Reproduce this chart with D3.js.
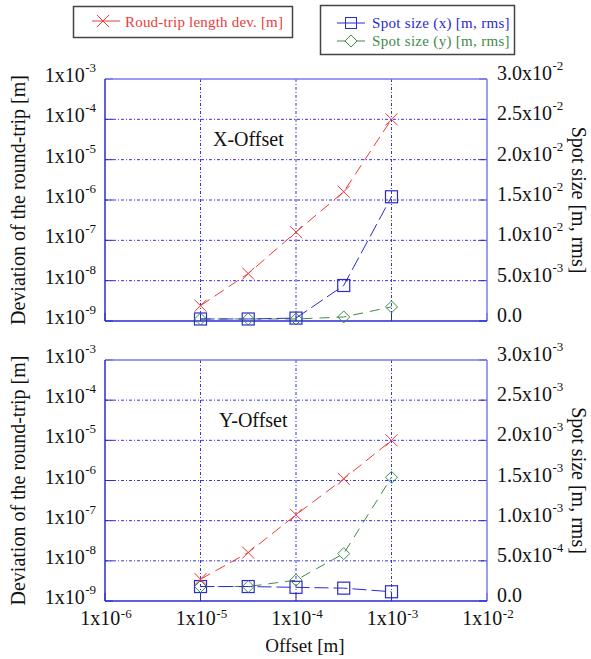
<!DOCTYPE html>
<html><head><meta charset="utf-8">
<script src="https://cdn.jsdelivr.net/npm/d3@7"></script>
<style>body{margin:0;background:#fff}svg{display:block}text{font-family:"Liberation Serif","DejaVu Serif",serif}</style>
</head><body><svg id="c" width="591" height="659"></svg>
<script>
// ---- data ----
const offsets = [1e-5, 3.16e-5, 1e-4, 3.16e-4, 1e-3];
const xOffRoundTrip = [2.4e-9, 1.5e-8, 1.6e-7, 1.6e-6, 1.0e-4];
const xOffSpotX = [2.5e-4, 2.5e-4, 3.6e-4, 4.4e-3, 1.54e-2];
const xOffSpotY = [2.5e-4, 2.5e-4, 2.5e-4, 5.0e-4, 1.75e-3];
const yOffRoundTrip = [3.5e-9, 1.6e-8, 1.4e-7, 1.1e-6, 1.0e-5];
const yOffSpotX = [1.8e-4, 1.8e-4, 1.7e-4, 1.6e-4, 1.15e-4];
const yOffSpotY = [1.8e-4, 1.8e-4, 2.6e-4, 5.9e-4, 1.54e-3];
const xTicks = [1e-6, 1e-5, 1e-4, 1e-3, 1e-2];
const xTickExp = ["-6", "-5", "-4", "-3", "-2"];
const leftTicks = [1e-9, 1e-8, 1e-7, 1e-6, 1e-5, 1e-4, 1e-3];
const leftTickExp = ["-9", "-8", "-7", "-6", "-5", "-4", "-3"];
const rightTicksTop = [0, 5e-3, 1e-2, 1.5e-2, 2e-2, 2.5e-2, 3e-2];
const rightLabelsTop = [["0.0", ""], ["5.0x10", "-3"], ["1.0x10", "-2"], ["1.5x10", "-2"], ["2.0x10", "-2"], ["2.5x10", "-2"], ["3.0x10", "-2"]];
const rightTicksBot = [0, 5e-4, 1e-3, 1.5e-3, 2e-3, 2.5e-3, 3e-3];
const rightLabelsBot = [["0.0", ""], ["5.0x10", "-4"], ["1.0x10", "-3"], ["1.5x10", "-3"], ["2.0x10", "-3"], ["2.5x10", "-3"], ["3.0x10", "-3"]];
const legendLabels = ["Roud-trip length dev. [m]", "Spot size (x) [m, rms]", "Spot size (y) [m, rms]"];

const RED = "#ee3a3a", BLUE = "#2a2ad0", GREEN = "#3f8a48";
const svg = d3.select("#c");
const L = 105, R = 487;
const x = d3.scaleLog().domain([1e-6, 1e-2]).range([L, R]);
const TF = 20, SF = 13;

function sup(sel, main, exp, dy) {
  sel.append("tspan").text(main);
  if (exp) sel.append("tspan").attr("dy", dy || -10).attr("dx", 0.5).attr("font-size", SF).text(exp);
}

function panel(top, bot, rt, spx, spy, rTicks, rLabels, title, showX) {
  const yl = d3.scaleLog().domain([1e-9, 1e-3]).range([bot, top]);
  const yr = d3.scaleLinear().domain([rTicks[0], rTicks[rTicks.length - 1]]).range([bot, top]);
  const g = svg.append("g");
  // grid
  g.selectAll(".hg").data(leftTicks.slice(1, -1)).join("line")
    .attr("x1", L).attr("x2", R).attr("y1", d => yl(d)).attr("y2", d => yl(d))
    .attr("stroke", "#3434e8").attr("stroke-width", 1).attr("stroke-dasharray", "3,2,1,2");
  g.selectAll(".vg").data(xTicks.slice(1, -1)).join("line")
    .attr("x1", d => x(d)).attr("x2", d => x(d)).attr("y1", top).attr("y2", bot)
    .attr("stroke", "#3434e8").attr("stroke-width", 1).attr("stroke-dasharray", "3,2,1,2");
  // inward ticks
  g.selectAll(".tl").data(leftTicks).join("line")
    .attr("x1", L).attr("x2", L + 8).attr("y1", d => yl(d)).attr("y2", d => yl(d)).attr("stroke", BLUE);
  g.selectAll(".tr").data(rTicks).join("line")
    .attr("x1", R - 8).attr("x2", R).attr("y1", d => yr(d)).attr("y2", d => yr(d)).attr("stroke", BLUE);
  g.selectAll(".tb").data(xTicks).join("line")
    .attr("x1", d => x(d)).attr("x2", d => x(d)).attr("y1", bot).attr("y2", bot - 8).attr("stroke", BLUE);
  // frame
  g.append("line").attr("x1", L).attr("x2", R).attr("y1", top).attr("y2", top).attr("stroke", "#7a7af0").attr("stroke-width", 1.5);
  g.append("line").attr("x1", R).attr("x2", R).attr("y1", top).attr("y2", bot).attr("stroke", "#7a7af0").attr("stroke-width", 1.5);
  g.append("line").attr("x1", L).attr("x2", L).attr("y1", top).attr("y2", bot).attr("stroke", BLUE).attr("stroke-width", 1.5);
  g.append("line").attr("x1", L).attr("x2", R).attr("y1", bot).attr("y2", bot).attr("stroke", BLUE).attr("stroke-width", 1.5);
  // left labels
  leftTicks.forEach((t, i) => {
    const tx = g.append("text").attr("x", 96).attr("y", yl(t) + 3).attr("text-anchor", "end").attr("font-size", TF).attr("fill", "#111");
    sup(tx, "1x10", leftTickExp[i]);
  });
  rTicks.forEach((t, i) => {
    const tx = g.append("text").attr("x", 497).attr("y", yr(t) + 1).attr("text-anchor", "start").attr("font-size", TF).attr("fill", "#111");
    sup(tx, rLabels[i][0], rLabels[i][1]);
  });
  if (showX) {
    xTicks.forEach((t, i) => {
      const tx = g.append("text").attr("x", x(t) + 1).attr("y", bot + 24).attr("text-anchor", "middle").attr("font-size", TF).attr("fill", "#111");
      sup(tx, "1x10", xTickExp[i], -7);
    });
  }
  const cy = (top + bot) / 2;
  g.append("text").attr("transform", `translate(25,${cy}) rotate(-90)`).attr("text-anchor", "middle")
    .attr("font-size", 20).attr("fill", "#111").text("Deviation of the round-trip [m]");
  g.append("text").attr("transform", `translate(572,${cy}) rotate(90)`).attr("text-anchor", "middle")
    .attr("font-size", 20).attr("fill", "#111").text("Spot size [m, rms]");
  g.append("text").attr("x", title.x).attr("y", top + 67).attr("font-size", 20).attr("fill", "#111").text(title.t);

  // series
  const lineL = d3.line().x((d, i) => x(offsets[i])).y(d => yl(d));
  const lineR = d3.line().x((d, i) => x(offsets[i])).y(d => yr(d));
  g.append("path").attr("d", lineR(spy)).attr("fill", "none").attr("stroke", GREEN).attr("stroke-width", 1).attr("stroke-dasharray", "10,7");
  g.append("path").attr("d", lineR(spx)).attr("fill", "none").attr("stroke", BLUE).attr("stroke-width", 1).attr("stroke-dasharray", "14,5");
  g.append("path").attr("d", lineL(rt)).attr("fill", "none").attr("stroke", RED).attr("stroke-width", 1).attr("stroke-dasharray", "11,6");
  g.selectAll(".sq").data(spx).join("rect")
    .attr("x", (d, i) => x(offsets[i]) - 6).attr("y", d => yr(d) - 6).attr("width", 12).attr("height", 12)
    .attr("fill", "none").attr("stroke", BLUE).attr("stroke-width", 1.2);
  g.selectAll(".dm").data(spy).join("path")
    .attr("d", (d, i) => { const cx = x(offsets[i]), c = yr(d); return `M${cx - 6},${c}L${cx},${c - 6}L${cx + 6},${c}L${cx},${c + 6}Z`; })
    .attr("fill", "none").attr("stroke", GREEN).attr("stroke-width", 1);
  g.selectAll(".cr").data(rt).join("path")
    .attr("d", (d, i) => { const cx = x(offsets[i]), c = yl(d); return `M${cx - 6},${c - 6}L${cx + 6},${c + 6}M${cx - 6},${c + 6}L${cx + 6},${c - 6}`; })
    .attr("fill", "none").attr("stroke", RED).attr("stroke-width", 1);
}

panel(79, 321, xOffRoundTrip, xOffSpotX, xOffSpotY, rightTicksTop, rightLabelsTop, {t: "X-Offset", x: 213}, false);
panel(360, 601, yOffRoundTrip, yOffSpotX, yOffSpotY, rightTicksBot, rightLabelsBot, {t: "Y-Offset", x: 219}, true);

svg.append("text").attr("x", 305).attr("y", 652).attr("text-anchor", "middle").attr("font-size", 19).attr("fill", "#111").text("Offset [m]");

// legends
const lg = svg.append("g");
lg.append("rect").attr("x", 73.5).attr("y", 6.5).attr("width", 219).attr("height", 31).attr("fill", "#fff").attr("stroke", "#444").attr("stroke-width", 1.5);
lg.append("line").attr("x1", 92).attr("x2", 120).attr("y1", 21).attr("y2", 21).attr("stroke", RED);
lg.append("path").attr("d", "M97,15L109,27M97,27L109,15").attr("stroke", RED).attr("fill", "none");
lg.append("text").attr("x", 125).attr("y", 27).attr("font-size", 15).attr("letter-spacing", 0.2).attr("fill", RED).text(legendLabels[0]);

lg.append("rect").attr("x", 320.5).attr("y", 5.5).attr("width", 194).attr("height", 49).attr("fill", "#fff").attr("stroke", "#444").attr("stroke-width", 1.5);
lg.append("line").attr("x1", 337).attr("x2", 365).attr("y1", 23).attr("y2", 23).attr("stroke", BLUE);
lg.append("rect").attr("x", 345.5).attr("y", 17.5).attr("width", 11).attr("height", 11).attr("fill", "none").attr("stroke", BLUE);
lg.append("text").attr("x", 372).attr("y", 28).attr("font-size", 15).attr("letter-spacing", 0.3).attr("fill", BLUE).text(legendLabels[1]);
lg.append("line").attr("x1", 337).attr("x2", 365).attr("y1", 41).attr("y2", 41).attr("stroke", GREEN);
lg.append("path").attr("d", "M345,41L351,35L357,41L351,47Z").attr("fill", "#fff").attr("stroke", GREEN);
lg.append("text").attr("x", 372).attr("y", 46).attr("font-size", 15).attr("letter-spacing", 0.3).attr("fill", GREEN).text(legendLabels[2]);
</script></body></html>
